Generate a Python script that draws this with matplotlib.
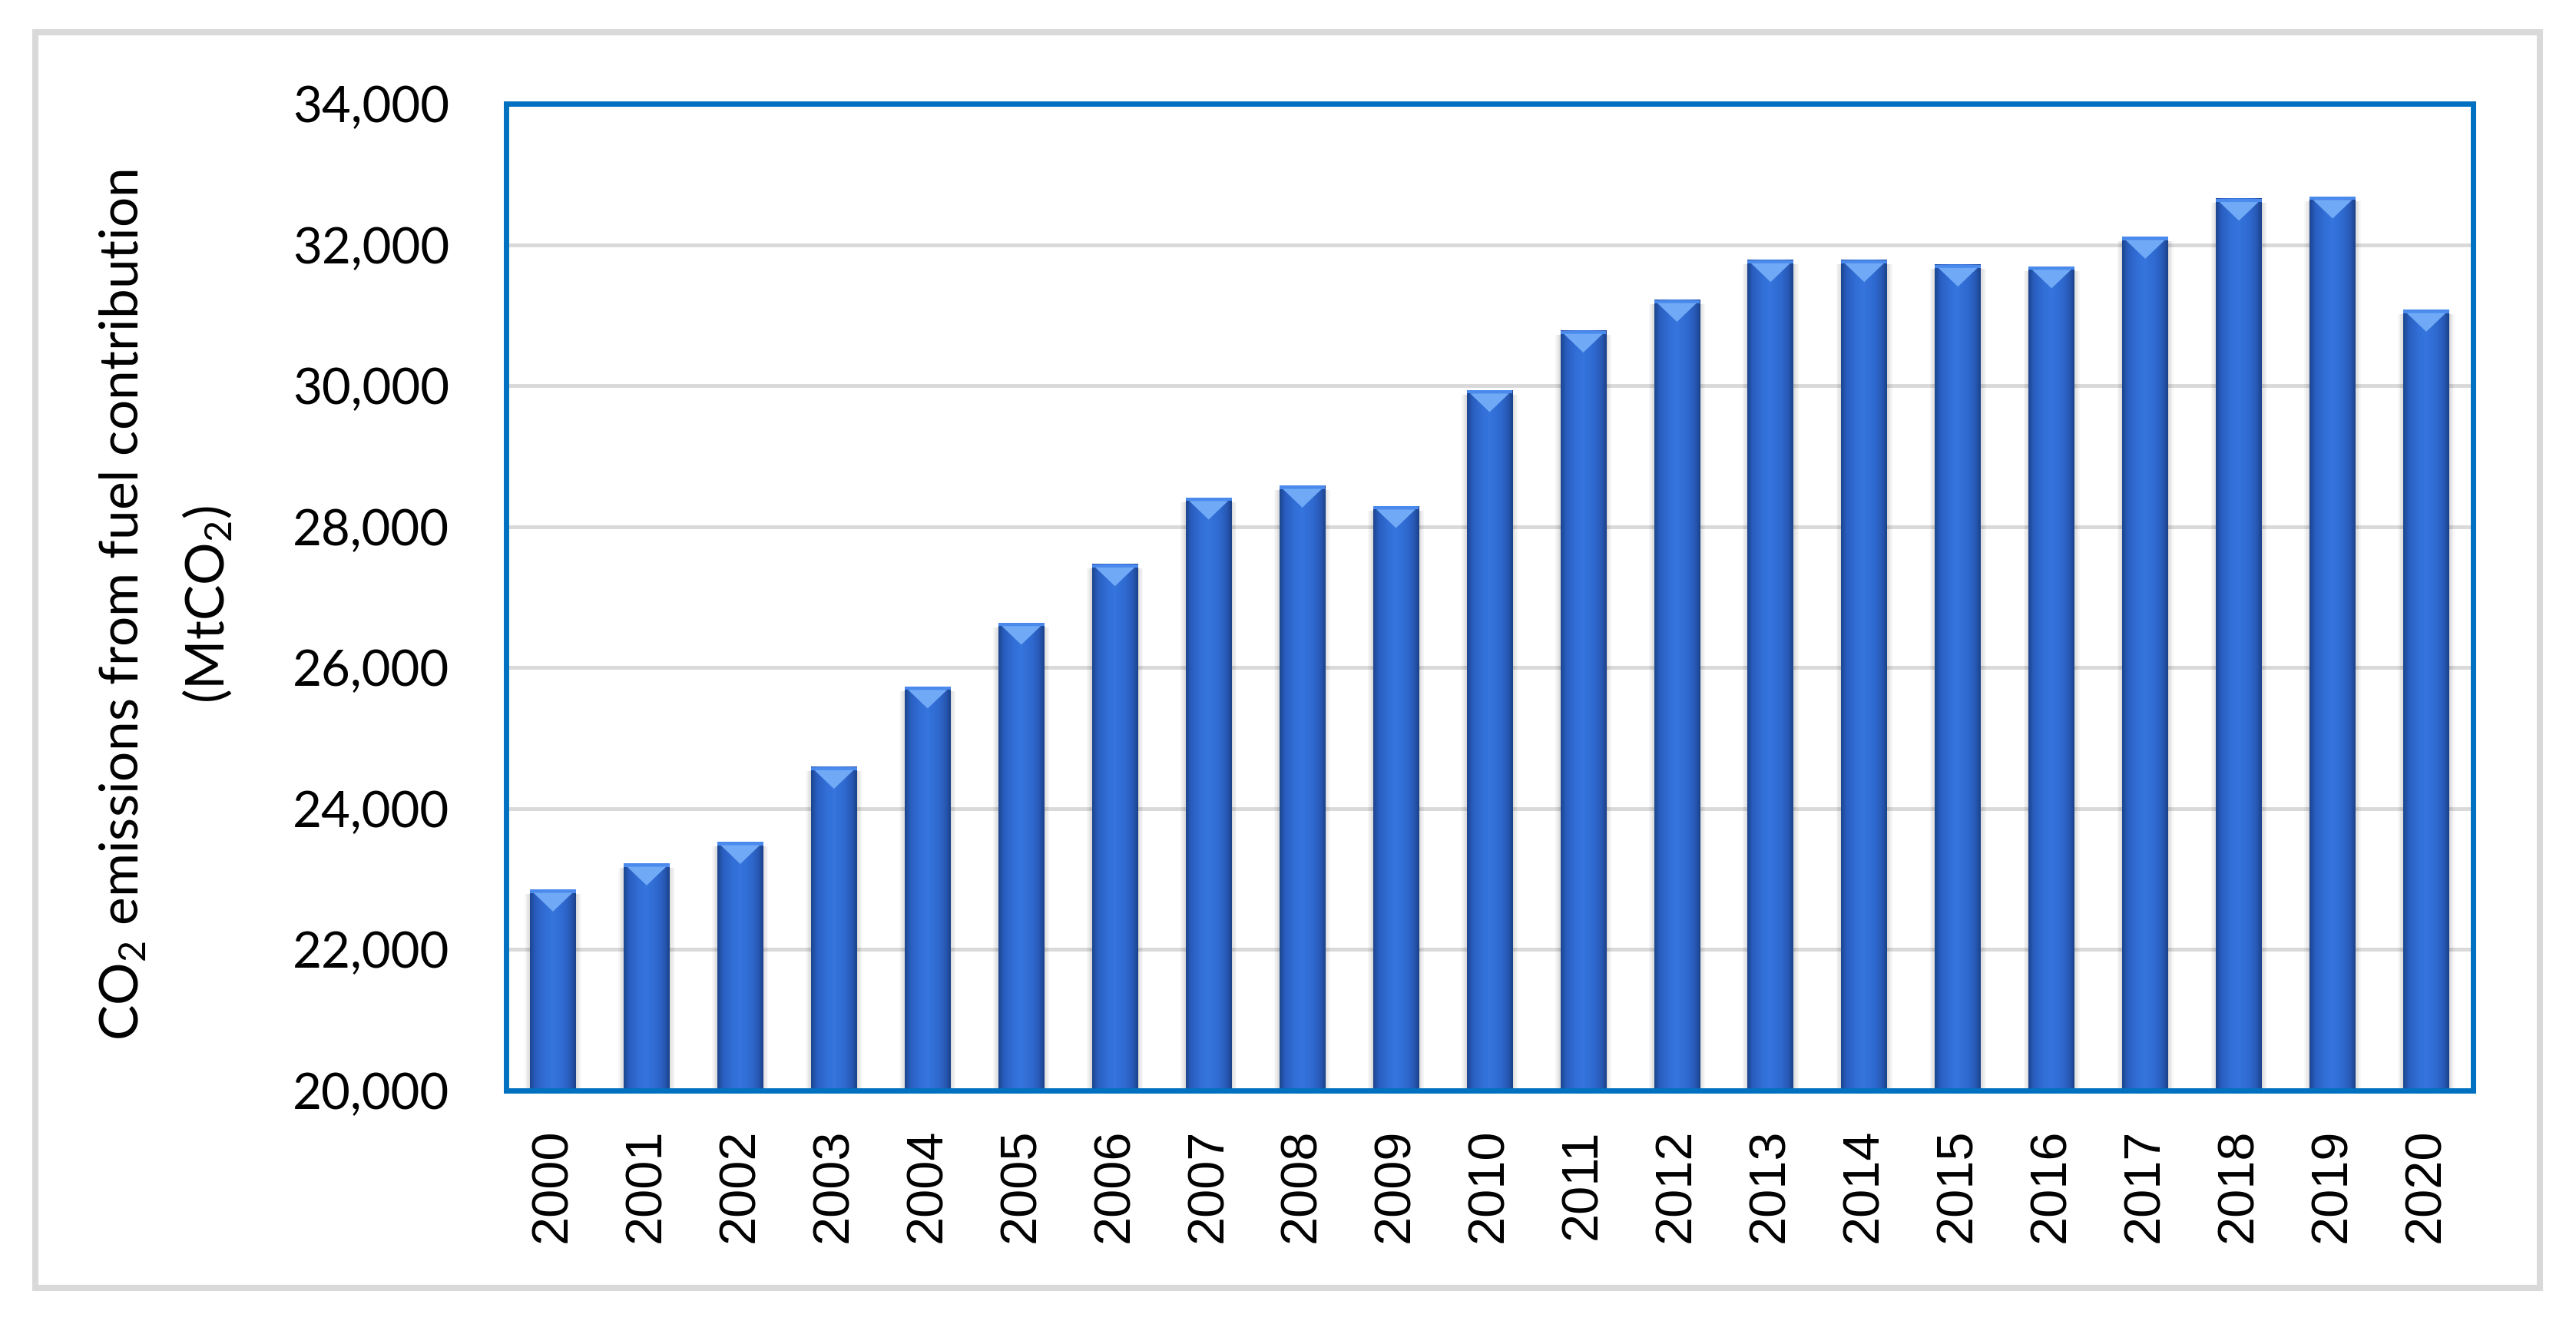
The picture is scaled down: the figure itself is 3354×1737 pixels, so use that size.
import matplotlib
matplotlib.use("Agg")
import matplotlib.pyplot as plt
import numpy as np
from matplotlib.colors import LinearSegmentedColormap
from matplotlib.patches import Polygon, Rectangle
from matplotlib.ticker import StrMethodFormatter

YEARS = [str(y) for y in range(2000, 2021)]
EMISSIONS = [22850, 23220, 23525, 24590, 25730, 26635, 27465, 28410, 28580, 28290,
             29935, 30780, 31215, 31780, 31780, 31715, 31690, 32110, 32650, 32680, 31075]
Y_TICKS = [20000, 22000, 24000, 26000, 28000, 30000, 32000, 34000]
Y_LABEL_1 = "CO$_2$ emissions from fuel contribution"
Y_LABEL_2 = "(MtCO$_2$)"

W, H = 3354, 1737
BLUE_FRAME = "#0070C0"
GRID = "#D9D9D9"
BAR_W = 0.49
TRI_H = 310  # height of the light bevel triangle at the top of each bar

plt.rcParams["mathtext.fontset"] = "custom"
plt.rcParams["mathtext.rm"] = "Lato"
plt.rcParams["mathtext.it"] = "Lato"

fig = plt.figure(figsize=(W / 100, H / 100), dpi=100)
fig.patch.set_facecolor("white")

# light grey outer frame round the whole chart
fig.patches.append(Rectangle((46 / W, 1 - 1677 / H), (3307 - 46) / W, (1677 - 42) / H,
                             transform=fig.transFigure, fill=False, ec=GRID, lw=5.8))

ax = fig.add_axes([659 / W, 1 - 1420 / H, (3220 - 659) / W, (1420 - 135) / H])
x = np.arange(len(YEARS))

bar_cmap = LinearSegmentedColormap.from_list(
    "bar", [(0.0, "#1C4690"), (0.12, "#2A5EC0"), (0.35, "#3270D8"),
            (0.5, "#3575DD"), (0.75, "#2E68CE"), (0.9, "#2858B4"), (1.0, "#1B428A")])
grad = np.linspace(0, 1, 64).reshape(1, -1)

# soft shadow on the sides of the bars
for k in range(5):
    ax.bar(x, np.array(EMISSIONS) - Y_TICKS[0] - 60, bottom=Y_TICKS[0],
           width=BAR_W + 0.022 * (k + 1), color="black", alpha=0.028, zorder=2, lw=0)

for xi, v in zip(x, EMISSIONS):
    ax.imshow(grad, extent=(xi - BAR_W / 2, xi + BAR_W / 2, Y_TICKS[0], v), aspect="auto",
              cmap=bar_cmap, interpolation="bicubic", zorder=3)
    ax.add_patch(Rectangle((xi - BAR_W / 2, v - 45), BAR_W, 45, color="#4A8AEC", lw=0, zorder=4))
    ax.add_patch(Polygon([(xi - BAR_W / 2 * 0.85, v - 45), (xi + BAR_W / 2 * 0.85, v - 45),
                          (xi, v - TRI_H)], closed=True, color="#70AAF6", lw=0, zorder=4))

ax.set_xlim(-0.5, len(YEARS) - 0.5)
ax.set_ylim(Y_TICKS[0], Y_TICKS[-1])
ax.set_xticks(x)
ax.set_xticklabels(YEARS, rotation=90, fontsize=48, family="Liberation Sans")
ax.set_yticks(Y_TICKS)
ax.yaxis.set_major_formatter(StrMethodFormatter("{x:,.0f}"))
for lab in ax.get_yticklabels():
    lab.set_family("Lato")
    lab.set_fontsize(47)
ax.tick_params(axis="x", length=0, pad=36)
ax.tick_params(axis="y", length=0, pad=53)

ax.yaxis.grid(True, color=GRID, lw=3.5)
ax.set_axisbelow(True)
for sp in ax.spines.values():
    sp.set_color(BLUE_FRAME)
    sp.set_linewidth(5)
    sp.set_zorder(6)

fig.text(160 / W, 1 - 787 / H, Y_LABEL_1, rotation=90, ha="center", va="center",
         fontsize=50, family="Lato")
fig.text(270 / W, 1 - 787 / H, Y_LABEL_2, rotation=90, ha="center", va="center",
         fontsize=50, family="Lato")

fig.savefig("out.png", dpi=100)
